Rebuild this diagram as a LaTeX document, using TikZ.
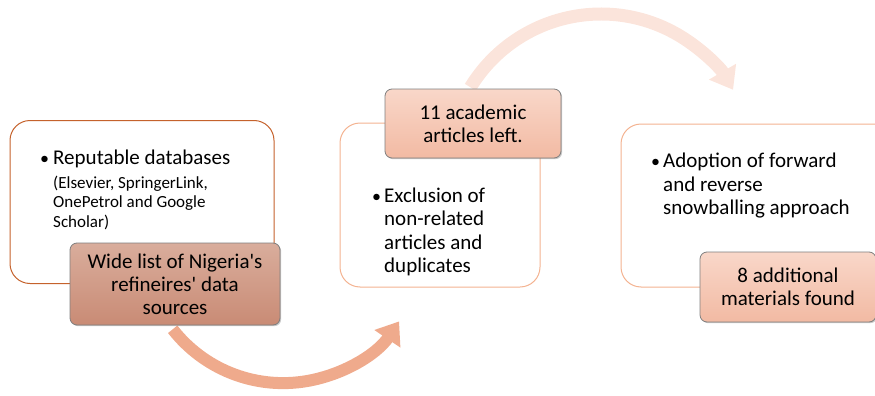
\documentclass[tikz,border=0pt]{standalone}
\usepackage{fontspec}
\setmainfont{Carlito}
\usetikzlibrary{arrows.meta,shadows}
\definecolor{bordA}{HTML}{C5622C}
\definecolor{bordB}{HTML}{F4B391}
\definecolor{labAtop}{HTML}{D9AD9C}
\definecolor{labAbot}{HTML}{C98B75}
\definecolor{labBtop}{HTML}{F9D7C9}
\definecolor{labBbot}{HTML}{F2BAA3}
\definecolor{arrA}{HTML}{EFAA8C}
\definecolor{arrB}{HTML}{FBE4DB}
\definecolor{labbord}{HTML}{7F7F7F}
\tikzset{
  outerbox/.style={draw, line width=1pt, rounded corners=20pt, fill=white, inner sep=0pt},
  labbox/.style={draw=labbord, line width=0.8pt, rounded corners=7pt, inner sep=0pt, align=center,
    font=\fontsize{21}{23}\selectfont,
    drop shadow={shadow xshift=1.2pt, shadow yshift=-1.2pt, opacity=0.35, fill=black!60}},
  labA/.style={labbox, top color=labAtop, bottom color=labAbot},
  labB/.style={labbox, top color=labBtop, bottom color=labBbot},
  bigtxt/.style={anchor=mid west, inner sep=0pt, font=\fontsize{21}{23}\selectfont},
  smalltxt/.style={anchor=mid west, inner sep=0pt, font=\fontsize{17}{19.5}\selectfont},
  bul/.style={anchor=mid west, inner sep=0pt, font=\fontsize{18}{20}\selectfont},
  bendarrow/.style={line width=#1, -{Triangle[width=30pt,length=21pt]}},
}
\begin{document}
\begin{tikzpicture}[x=1pt,y=-1pt]
\useasboundingbox (0,0) rectangle (875,396);
\clip (0,0) rectangle (875,396);
% arrows (behind)
\coordinate (a1s) at (172.7,329.3);
\draw[bendarrow=12pt, arrA] (a1s) arc[start angle=142, end angle=34, radius=140];
\coordinate (a2s) at (470.4,87.3);
\draw[bendarrow=13pt, arrB] (a2s) arc[start angle=211.4, end angle=329.7, radius=153];
% outer boxes
\node[outerbox, draw=bordA, minimum width=264pt, minimum height=163pt] (B1) at (142,202) {};
\node[outerbox, draw=bordB, minimum width=200pt, minimum height=164pt] (B2) at (440,205) {};
\node[outerbox, draw=bordB, minimum width=280pt, minimum height=163pt] (B3) at (761,205.5) {};
% box texts
\node[bul] (k1) at (40,162) {•};
\node[bigtxt] (t1a) at (53,162) {Reputable databases};
\node[smalltxt] (t1b) at (53,186) {(Elsevier, SpringerLink,};
\node[smalltxt] (t1c) at (53,205) {OnePetrol and Google};
\node[smalltxt] (t1d) at (53,225) {Scholar)};
\node[bul] (k2) at (372,200) {•};
\node[bigtxt] (t2a) at (384,200) {Exclusion of};
\node[bigtxt] (t2b) at (384,223) {non-related};
\node[bigtxt] (t2c) at (384,247) {articles and};
\node[bigtxt] (t2d) at (384,270) {duplicates};
\node[bul] (k3) at (651,165) {•};
\node[bigtxt] (t3a) at (663,165) {Adoption of forward};
\node[bigtxt] (t3b) at (663,189) {and reverse};
\node[bigtxt] (t3c) at (663,212) {snowballing approach};
% labels
\node[labA, minimum width=210pt, minimum height=82pt] (L1) at (175,284) {Wide list of Nigeria\textquotesingle s\\refineires\textquotesingle{} data\\sources};
\node[labB, minimum width=176pt, minimum height=69pt] (L2) at (473,123.5) {11 academic\\articles left.};
\node[labB, minimum width=176pt, minimum height=70pt] (L3) at (788,287) {8 additional\\materials found};
\end{tikzpicture}
\end{document}
